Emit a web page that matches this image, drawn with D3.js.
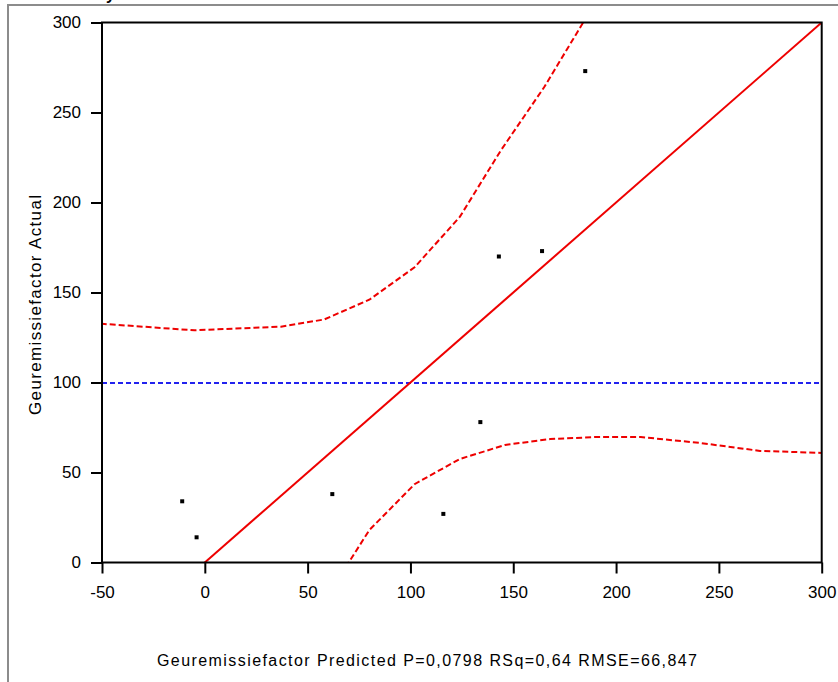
<!DOCTYPE html>
<html><head><meta charset="utf-8">
<script src="https://cdn.jsdelivr.net/npm/d3@7"></script>
<style>body{margin:0;background:#fff}svg{display:block}text{font-family:Arial,"Liberation Sans",sans-serif}</style>
</head><body>
<svg id="c" width="838" height="682"></svg>
<script>
const title = "Actual by Predicted Plot";
const xTitle = "Geuremissiefactor Predicted P=0,0798 RSq=0,64 RMSE=66,847";
const yTitle = "Geuremissiefactor Actual";
const xTicks = [-50, 0, 50, 100, 150, 200, 250, 300];
const yTicks = [0, 50, 100, 150, 200, 250, 300];
const predicted = [-11, -4, 62, 116, 134, 143, 164, 185];
const actual = [34, 14, 38, 27, 78, 170, 173, 273];
const meanActual = 99.7;
const fitLine = [[-60, -60], [310, 310]];
const upperX = [-55, -5, 37, 58, 80, 102, 124, 144, 165, 184, 195];
const upperY = [133, 129, 131, 135, 146, 164, 192, 229, 264, 300, 318];
const lowerX = [60, 70, 80, 102, 124, 146, 168, 190, 212, 241, 270, 305];
const lowerY = [-14, 0, 18, 43.5, 57.5, 65.3, 68.6, 69.7, 69.7, 66.4, 62, 60.7];

const svg = d3.select("#c");
const L = 102, R = 821.7, T = 22.5, B = 562.5;
const x = d3.scaleLinear().domain([-50, 300]).range([L, R]);
const y = d3.scaleLinear().domain([0, 300]).range([B, T]);

// outer frame
svg.append("path").attr("d", "M8,682 L8,5 L838,5").attr("fill", "none").attr("stroke", "#8c8c8c").attr("stroke-width", 2);
// cut-off title (only its descender is visible, as in the reference)
svg.append("text").attr("x", 43).attr("y", -0.5).attr("font-weight", "bold").attr("font-size", 16).text(title);

svg.append("defs").append("clipPath").attr("id", "clip").append("rect")
  .attr("x", L).attr("y", T).attr("width", R - L).attr("height", B - T);
const g = svg.append("g").attr("clip-path", "url(#clip)");

// mean line
g.append("line").attr("x1", x(-50)).attr("x2", x(300)).attr("y1", y(meanActual)).attr("y2", y(meanActual))
  .attr("stroke", "#2222ee").attr("stroke-width", 2).attr("stroke-dasharray", "5,3");
// fit line
const line = d3.line().x(d => x(d[0])).y(d => y(d[1]));
g.append("path").attr("d", line(fitLine)).attr("fill", "none").attr("stroke", "#ee0000").attr("stroke-width", 2);
// confidence curves
g.append("path").attr("d", line(upperX.map((v, i) => [v, upperY[i]]))).attr("fill", "none")
  .attr("stroke", "#ee0000").attr("stroke-width", 2).attr("stroke-dasharray", "6,3");
g.append("path").attr("d", line(lowerX.map((v, i) => [v, lowerY[i]]))).attr("fill", "none")
  .attr("stroke", "#ee0000").attr("stroke-width", 2).attr("stroke-dasharray", "6,3");
// points
g.selectAll("rect.pt").data(predicted.map((v, i) => [v, actual[i]])).enter().append("rect")
  .attr("x", d => x(d[0]) - 2).attr("y", d => y(d[1]) - 2).attr("width", 4).attr("height", 4).attr("fill", "#000");

// axes
const xAxis = d3.axisBottom(x).tickValues(xTicks).tickSize(11).tickPadding(12).tickFormat(d => String(d));
const yAxis = d3.axisLeft(y).tickValues(yTicks).tickSize(11).tickPadding(10).tickFormat(d => String(d));
const gx = svg.append("g").attr("transform", `translate(0,${B})`).call(xAxis);
const gy = svg.append("g").attr("transform", `translate(${L},0)`).call(yAxis);
[gx, gy].forEach(a => {
  a.select(".domain").remove();
  a.selectAll("line").attr("stroke", "#000").attr("stroke-width", 2);
  a.selectAll("text").attr("font-size", 17).attr("fill", "#000").attr("font-family", "Arial, 'Liberation Sans', sans-serif");
});
// frame
svg.append("rect").attr("x", L).attr("y", T).attr("width", R - L).attr("height", B - T)
  .attr("fill", "none").attr("stroke", "#000").attr("stroke-width", 2);

// axis titles
svg.append("text").attr("x", 427).attr("y", 666).attr("text-anchor", "middle").attr("font-size", 16)
  .attr("textLength", 540).attr("lengthAdjust", "spacing").text(xTitle);
svg.append("text").attr("transform", "translate(41,305) rotate(-90)").attr("text-anchor", "middle").attr("font-size", 17)
  .attr("textLength", 220).attr("lengthAdjust", "spacing").text(yTitle);
</script>
</body></html>
